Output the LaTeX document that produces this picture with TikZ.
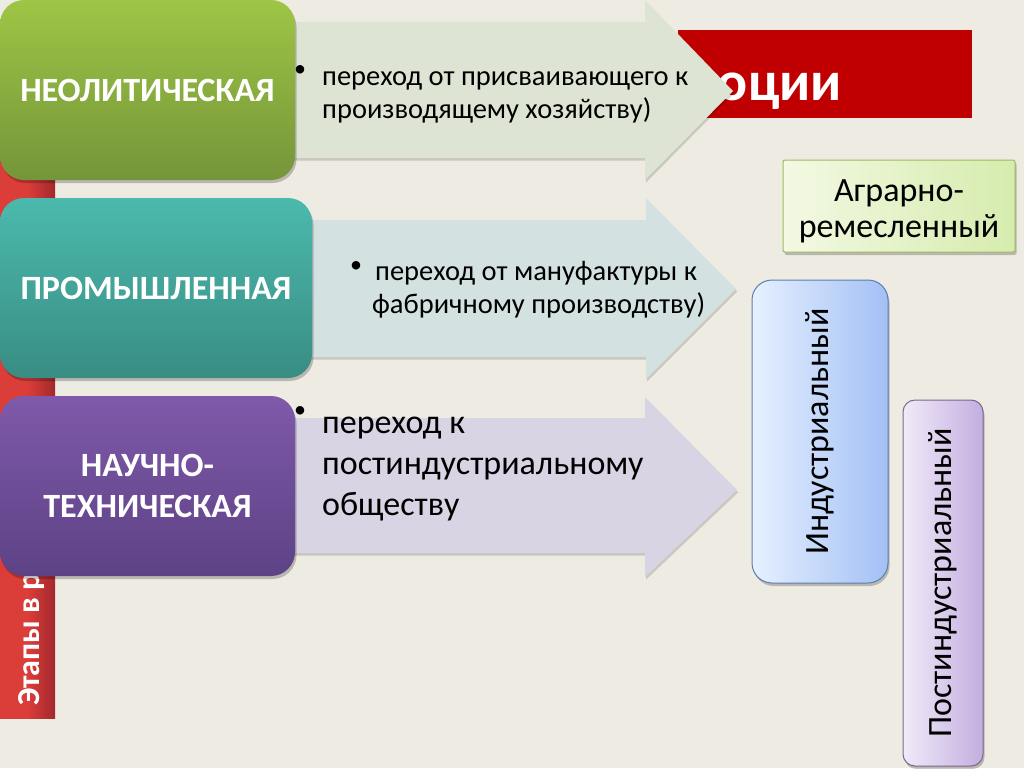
\documentclass[tikz,border=0pt]{standalone}
\usepackage{fontspec}
\setmainfont{Carlito}
\usetikzlibrary{shadows}
\definecolor{bg}{HTML}{EEEBE2}
\definecolor{barL}{HTML}{DB3D39}
\definecolor{barR}{HTML}{A3282C}
\definecolor{banner}{HTML}{C00000}
\definecolor{grT}{HTML}{9EC545}
\definecolor{grB}{HTML}{75953A}
\definecolor{tlT}{HTML}{4CB9AD}
\definecolor{tlB}{HTML}{398D83}
\definecolor{puT}{HTML}{7F59AA}
\definecolor{puB}{HTML}{5D4285}
\definecolor{arA}{HTML}{DEE4D3}
\definecolor{arB}{HTML}{D3E2E1}
\definecolor{arC}{HTML}{D8D4E3}
\definecolor{agL}{HTML}{F3F9E3}
\definecolor{agR}{HTML}{D6ECAE}
\definecolor{agD}{HTML}{9CBB5E}
\definecolor{inL}{HTML}{E6F0FF}
\definecolor{inR}{HTML}{A3C0F5}
\definecolor{inD}{HTML}{5B7DB1}
\definecolor{poL}{HTML}{F1EAF8}
\definecolor{poR}{HTML}{C3AEE0}
\definecolor{poD}{HTML}{7A6690}
\tikzset{
  shd/.style={drop shadow={shadow xshift=1.5pt,shadow yshift=-3pt,opacity=0.22,fill=black}},
  ashd/.style={drop shadow={shadow xshift=1pt,shadow yshift=-2.5pt,opacity=0.15,fill=black}},
  stagebox/.style={shd,rounded corners=24pt,inner sep=0pt,text=white,align=center,
    font=\bfseries\fontsize{34}{41}\selectfont},
  atext/.style={inner sep=0pt,anchor=base west,font=\fontsize{28.5}{33}\selectfont},
  ctext/.style={inner sep=0pt,anchor=base west,font=\fontsize{34}{40}\selectfont},
  bul/.style={inner sep=0pt,font=\fontsize{24}{24}\selectfont},
  rbox/.style={shd,inner sep=0pt,line width=1pt,align=center,font=\fontsize{34}{36}\selectfont}
}
\begin{document}
\begin{tikzpicture}[x=1pt,y=-1pt]
\useasboundingbox (0,0) rectangle (1024,768);
\fill[bg] (0,0) rectangle (1024,768);
% left red bar
\shade[left color=barL,right color=barR,middle color=barL] (0,30) rectangle (55,718);
\node[rotate=90,anchor=base west,inner sep=0pt,text=white,font=\bfseries\fontsize{32}{40}\selectfont] (bartitle) at (39,706) {Этапы в развитии};
% top banner
\fill[banner] (678,30) rectangle (972,118);
\node[anchor=base east,inner sep=0pt,text=white,font=\bfseries\fontsize{56}{60}\selectfont] (title) at (842,100) {оции};
% arrows
\path[ashd,fill=arA] (290,22) -- (645,22) -- (645,0) -- (733,91) -- (645,180) -- (645,158) -- (290,158) -- cycle;
\path[ashd,fill=arB] (300,220) -- (646,220) -- (646,198) -- (736,289) -- (646,379) -- (646,357) -- (300,357) -- cycle;
\path[ashd,fill=arC] (290,418) -- (645,418) -- (645,397) -- (737,490) -- (645,577) -- (645,553) -- (290,553) -- cycle;
% arrow texts
\node[bul] (b1) at (300,71) {•};
\node[atext] (t1a) at (322,85) {переход от присваивающего к};
\node[atext] (t1b) at (322,118) {производящему хозяйству)};
\node[bul] (b2) at (356,267) {•};
\node[atext] (t2a) at (375,280) {переход от мануфактуры к};
\node[atext] (t2b) at (372,313) {фабричному производству)};
\node[bul] (b3) at (300,412) {•};
\node[ctext] (t3a) at (322,433) {переход к};
\node[ctext] (t3b) at (322,474) {постиндустриальному};
\node[ctext] (t3c) at (322,515) {обществу};
% stage boxes
\node[stagebox,top color=grT,bottom color=grB,minimum width=295pt,minimum height=180pt] (neo) at (147.5,90) {НЕОЛИТИЧЕСКАЯ};
\node[stagebox,top color=tlT,bottom color=tlB,minimum width=312pt,minimum height=180pt] (ind) at (156,288) {ПРОМЫШЛЕННАЯ};
\node[stagebox,top color=puT,bottom color=puB,minimum width=295pt,minimum height=180pt] (sci) at (147.5,486) {НАУЧНО-\\ТЕХНИЧЕСКАЯ};
% right boxes
\node[rbox,draw=agD,left color=agL,right color=agR,rounded corners=2pt,minimum width=232pt,minimum height=92pt] (agr) at (899,206) {};
\node[inner sep=0pt,align=center,font=\fontsize{34}{36}\selectfont] (agrtext) at ([yshift=-5pt]agr.center) {Аграрно-\\ремесленный};
\node[rbox,draw=inD,left color=inL,right color=inR,rounded corners=20pt,minimum width=136pt,minimum height=303pt] (indu) at (820,431.5) {\rotatebox{90}{Индустриальный}};
\node[rbox,draw=poD,left color=poL,right color=poR,rounded corners=12pt,minimum width=80pt,minimum height=366pt] (post) at (943,583) {\rotatebox{90}{Постиндустриальный}};
\end{tikzpicture}
\end{document}
